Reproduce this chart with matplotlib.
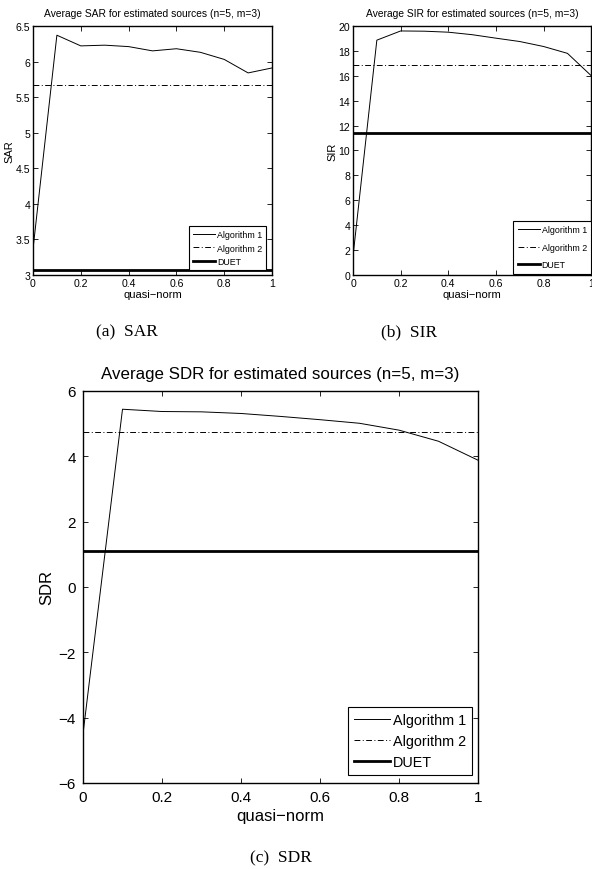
import matplotlib
matplotlib.use("Agg")
import matplotlib.pyplot as plt
import numpy as np

x = [0, 0.1, 0.2, 0.3, 0.4, 0.5, 0.6, 0.7, 0.8, 0.9, 1.0]

sar_alg1 = [3.36, 6.37, 6.22, 6.23, 6.21, 6.15, 6.18, 6.13, 6.03, 5.84, 5.91]
sar_alg2 = 5.67
sar_duet = 3.07

sir_alg1 = [1.5, 18.86, 19.6, 19.58, 19.5, 19.3, 19.02, 18.75, 18.35, 17.8, 16.0]
sir_alg2 = 16.87
sir_duet = 11.37

sdr_alg1 = [-4.5, 5.44, 5.37, 5.36, 5.31, 5.22, 5.12, 5.01, 4.80, 4.46, 3.88]
sdr_alg2 = 4.73
sdr_duet = 1.09

legend_labels = ["Algorithm 1", "Algorithm 2", "DUET"]
xticks = [0, 0.2, 0.4, 0.6, 0.8, 1]
xtick_labels = ["0", "0.2", "0.4", "0.6", "0.8", "1"]

FONT = "Liberation Sans"
plt.rcParams["font.family"] = FONT
plt.rcParams["axes.unicode_minus"] = True

fig = plt.figure(figsize=(5.92, 8.70), dpi=100)

def panel(rect, y1, y2, y3, ylim, yticks, yticklabels, ylabel, title,
          tfs, lblfs, titlefs, lfs, legbox, lspace, bpad, tpad, titlepad, labpad):
    ax = fig.add_axes(rect)
    ax.plot(x, y1, color="black", lw=0.7, label=legend_labels[0])
    ax.axhline(y2, color="black", lw=0.7, dashes=(6, 2.5, 1, 2.5), label=legend_labels[1])
    ax.axhline(y3, color="black", lw=2.0, label=legend_labels[2])
    ax.set_xlim(0, 1)
    ax.set_ylim(*ylim)
    ax.set_xticks(xticks)
    ax.set_xticklabels(xtick_labels)
    ax.set_yticks(yticks)
    ax.set_yticklabels(yticklabels)
    ax.tick_params(direction="in", top=True, right=True, labelsize=tfs, length=3.5,
                   width=0.6, pad=tpad)
    for s in ax.spines.values():
        s.set_linewidth(1.0)
    ax.set_xlabel("quasi\u2212norm", fontsize=lblfs, labelpad=labpad)
    ax.set_ylabel(ylabel, fontsize=lblfs, labelpad=labpad)
    ax.set_title(title, fontsize=titlefs, pad=titlepad)
    leg = ax.legend(loc="lower right", bbox_to_anchor=legbox, fontsize=lfs, frameon=True,
                    fancybox=False, edgecolor="black", framealpha=1, handlelength=2.5,
                    handletextpad=0.2, borderpad=bpad, labelspacing=lspace, borderaxespad=0)
    leg.get_frame().set_linewidth(0.8)
    return ax

panel([0.0557, 0.6828, 0.4038, 0.2862], sar_alg1, sar_alg2, sar_duet,
      (3, 6.5), [3, 3.5, 4, 4.5, 5, 5.5, 6, 6.5],
      ["3", "3.5", "4", "4.5", "5", "5.5", "6", "6.5"],
      "SAR", "Average SAR for estimated sources (n=5, m=3)",
      7.6, 8.0, 7.4, 6.4, (0.975, 0.02), 0.5, 0.45, 2, 7, 1)

panel([0.5963, 0.6828, 0.4025, 0.2862], sir_alg1, sir_alg2, sir_duet,
      (0, 20), list(range(0, 21, 2)), [str(v) for v in range(0, 21, 2)],
      "SIR", "Average SIR for estimated sources (n=5, m=3)",
      7.6, 8.0, 7.4, 6.4, (1.0, 0.005), 0.95, 0.5, 2, 7, 1)

panel([0.1402, 0.0989, 0.6672, 0.4506], sdr_alg1, sdr_alg2, sdr_duet,
      (-6, 6), [-6, -4, -2, 0, 2, 4, 6], ["\u22126", "\u22124", "\u22122", "0", "2", "4", "6"],
      "SDR", "Average SDR for estimated sources (n=5, m=3)",
      11, 12, 12.2, 10.4, (0.985, 0.02), 0.5, 0.4, 5, 9, 3)

fig.text(127 / 592, 1 - 332 / 870, "(a)  SAR", family="Liberation Serif", fontsize=12.5,
         ha="center", va="center")
fig.text(409 / 592, 1 - 332 / 870, "(b)  SIR", family="Liberation Serif", fontsize=12.5,
         ha="center", va="center")
fig.text(281 / 592, 1 - 858 / 870, "(c)  SDR", family="Liberation Serif", fontsize=12.5,
         ha="center", va="center")

fig.savefig("out.png", dpi=100, facecolor="white")
